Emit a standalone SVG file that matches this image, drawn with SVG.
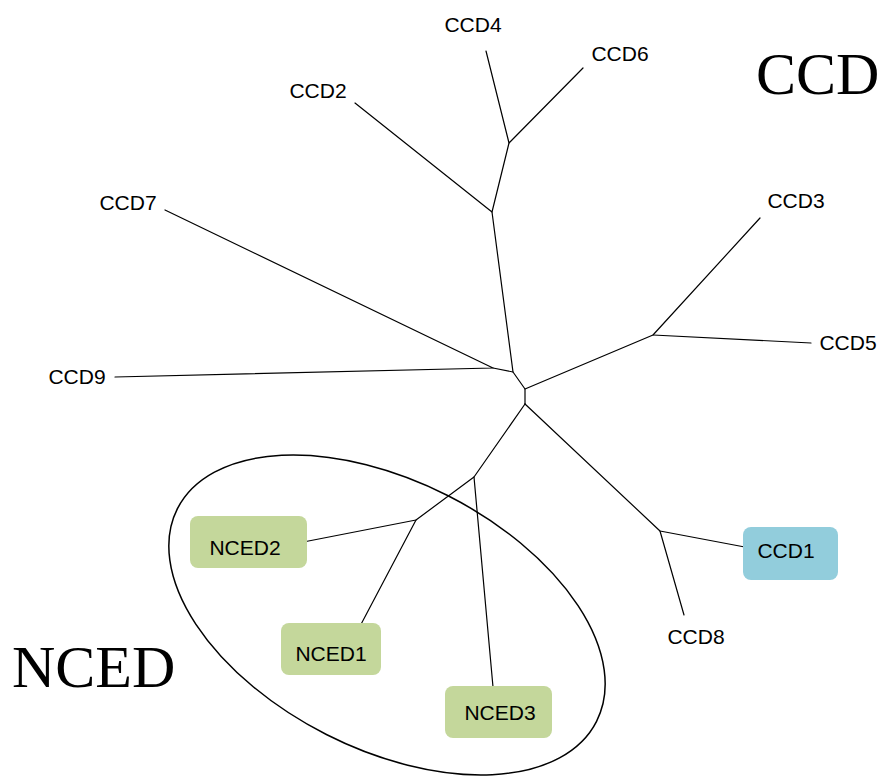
<svg xmlns="http://www.w3.org/2000/svg" width="883" height="776" viewBox="0 0 883 776">
<style>
.edge{stroke:#000;stroke-width:1.2;fill:none;stroke-linecap:round;stroke-linejoin:round}
.lbl{font-family:"Liberation Sans",Arial,sans-serif;font-size:21px;fill:#000;text-anchor:middle}
.big{font-family:"Liberation Serif","Times New Roman",serif;font-size:60px;fill:#000}
.nced{fill:#c4d79b}
.ccd1{fill:#92cddc}
</style>
<rect width="883" height="776" fill="#fff"/>
<g id="connectors">
<polyline class="edge" points="486,51 509,143 583,68"/>
<polyline class="edge" points="509,143 492,212 355,103"/>
<polyline class="edge" points="492,212 513,372"/>
<polyline class="edge" points="165,210 493,368 115,377"/>
<polyline class="edge" points="493,368 513,372 525,389 525,404"/>
<polyline class="edge" points="525,389 653,335 760,218"/>
<polyline class="edge" points="653,335 811,343"/>
<polyline class="edge" points="525,404 660,531 750,548"/>
<polyline class="edge" points="660,531 684,615"/>
<polyline class="edge" points="525,404 474,477 493,687"/>
<polyline class="edge" points="474,477 416,520 288,545"/>
<polyline class="edge" points="416,520 358,630"/>
</g>
<g id="group-nced">
<ellipse cx="387" cy="615" rx="235" ry="134" transform="rotate(26.9 387 615)" fill="none" stroke="#000" stroke-width="1.5"/>
</g>
<g id="CCD4"><text class="lbl" x="473" y="32">CCD4</text></g>
<g id="CCD6"><text class="lbl" x="620" y="61">CCD6</text></g>
<g id="CCD2"><text class="lbl" x="318" y="98">CCD2</text></g>
<g id="CCD7"><text class="lbl" x="128" y="210">CCD7</text></g>
<g id="CCD3"><text class="lbl" x="796" y="208">CCD3</text></g>
<g id="CCD5"><text class="lbl" x="848" y="350">CCD5</text></g>
<g id="CCD9"><text class="lbl" x="77" y="384">CCD9</text></g>
<g id="CCD8"><text class="lbl" x="696" y="644">CCD8</text></g>
<g id="CCD1"><rect class="ccd1" x="743" y="527" width="95" height="53" rx="8"/><text class="lbl" x="786" y="558">CCD1</text></g>
<g id="NCED2"><rect class="nced" x="190" y="516" width="117" height="52" rx="8"/><text class="lbl" x="245" y="555">NCED2</text></g>
<g id="NCED1"><rect class="nced" x="281" y="623" width="100" height="52" rx="8"/><text class="lbl" x="331" y="661">NCED1</text></g>
<g id="NCED3"><rect class="nced" x="445" y="686" width="107" height="52" rx="8"/><text class="lbl" x="500" y="720">NCED3</text></g>
<g id="title-ccd"><text class="big" x="756" y="94">CCD</text></g>
<g id="title-nced"><text class="big" x="12" y="687">NCED</text></g>
</svg>
